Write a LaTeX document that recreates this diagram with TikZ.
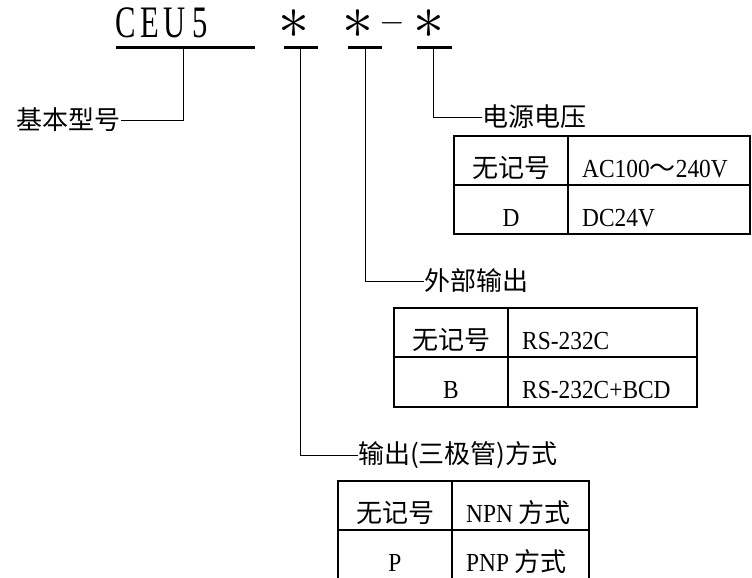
\documentclass[tikz,border=0pt]{standalone}
\usepackage{fontspec}
\setmainfont{Liberation Serif}[FakeStretch=0.9]
\newfontfamily\cjk{Noto Sans CJK SC}
\newfontfamily\titlefont{Liberation Serif}[FakeStretch=0.68]
\begin{document}
\begin{tikzpicture}[x=1pt,y=-1pt,
  lbl/.style={inner sep=0pt, font=\fontsize{26}{30}\selectfont\cjk},
  cell/.style={inner sep=0pt, font=\fontsize{26}{30}\selectfont},
  conn/.style={line width=1pt},
  tbl/.style={line width=2pt},
  uline/.style={line width=2.6pt},
  ttl/.style={inner sep=0pt, anchor=base, font=\fontsize{45}{50}\selectfont\titlefont},
  sym/.style={inner sep=0pt}]
\useasboundingbox (0,0) rectangle (752,578);
\clip (0,0) rectangle (752,578);
% title
\node[ttl] (tC) at (126,38) {C};
\node[ttl] (tE) at (150,38) {E};
\node[ttl] (tU) at (175,38) {U};
\node[ttl] (t5) at (200,38) {5};
\node[sym] (s1) at (294,24) {\scalebox{6.2}{$\ast$}};
\node[sym] (s2) at (358,24) {\scalebox{6.2}{$\ast$}};
\node[sym] (dash) at (392,23) {\scalebox{3.3}{$-$}};
\node[sym] (s3) at (429,24) {\scalebox{6.2}{$\ast$}};
% underlines
\coordinate (u0a) at (116,47.5); \coordinate (u0b) at (255,47.5);
\coordinate (u1a) at (284,47.5); \coordinate (u1b) at (318,47.5);
\coordinate (u2a) at (348,47.5); \coordinate (u2b) at (382,47.5);
\coordinate (u3a) at (417,47.5); \coordinate (u3b) at (452,47.5);
\draw[uline] (u0a) -- (u0b);
\draw[uline] (u1a) -- (u1b);
\draw[uline] (u2a) -- (u2b);
\draw[uline] (u3a) -- (u3b);
\coordinate (c0) at (183,47.5);
\coordinate (c1) at (300,47.5);
\coordinate (c2) at (365,47.5);
\coordinate (c3) at (433,47.5);
% labels
\node[lbl, anchor=east] (base) at (121,120) {基本型号};
\node[lbl, anchor=west] (pw) at (482,117) {电源电压};
\node[lbl, anchor=west] (out) at (424,281) {外部输出};
\node[lbl, anchor=west] (tr) at (358,455) {输出(三极管)方式};
\draw[conn] (c0) |- (base.east);
\draw[conn] (c3) |- (pw.west);
\draw[conn] (c2) |- (out.west);
\draw[conn] (c1) |- (tr.west);
% table 1
\draw[tbl] (454,136) rectangle (750,234);
\draw[tbl] (454,185) -- (750,185);
\draw[tbl] (568,136) -- (568,234);
\node[cell, anchor=base] (t1a) at (511,177) {\cjk 无记号};
\node[cell, anchor=base west] (t1b) at (582,177) {AC100{\cjk ～}240V};
\node[cell, anchor=base] (t1c) at (511,226) {D};
\node[cell, anchor=base west] (t1d) at (582,226) {DC24V};
% table 2
\draw[tbl] (394,308) rectangle (697,407);
\draw[tbl] (394,357) -- (697,357);
\draw[tbl] (508,308) -- (508,407);
\node[cell, anchor=base] (t2a) at (451,349) {\cjk 无记号};
\node[cell, anchor=base west] (t2b) at (522,349) {RS-232C};
\node[cell, anchor=base] (t2c) at (451,398) {B};
\node[cell, anchor=base west] (t2d) at (522,398) {RS-232C+BCD};
% table 3
\draw[tbl] (338,481) rectangle (589,580);
\draw[tbl] (338,530) -- (589,530);
\draw[tbl] (452,481) -- (452,580);
\node[cell, anchor=base] (t3a) at (395,522) {\cjk 无记号};
\node[cell, anchor=base west] (t3b) at (466,522) {NPN {\cjk 方式}};
\node[cell, anchor=base] (t3c) at (395,571) {P};
\node[cell, anchor=base west] (t3d) at (466,571) {PNP {\cjk 方式}};
\end{tikzpicture}
\end{document}
